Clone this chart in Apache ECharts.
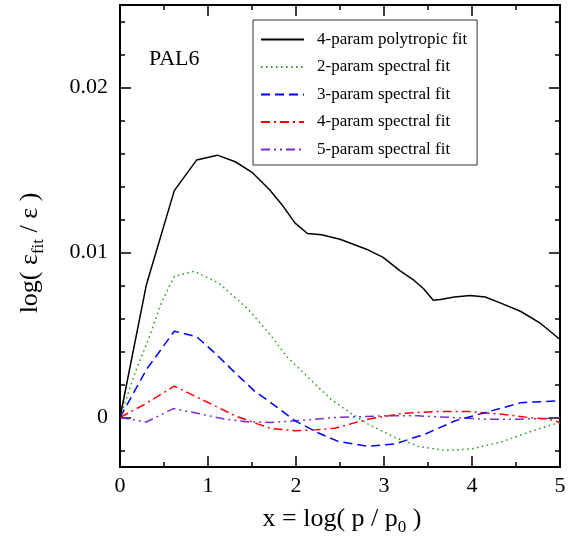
<!DOCTYPE html>
<html><head><meta charset="utf-8">
<script src="https://cdn.jsdelivr.net/npm/echarts@6/dist/echarts.min.js"></script>
<style>html,body{margin:0;padding:0;background:#fff}#c{width:575px;height:545px}</style>
</head><body><div id="c"></div>
<script>
const seriesNames = ['4-param polytropic fit','2-param spectral fit','3-param spectral fit','4-param spectral fit','5-param spectral fit'];
const polytropic4 = [[0,0],[0.30,0.00805],[0.617,0.01375],[0.87,0.0156],[1.106,0.0159],[1.31,0.0155],[1.50,0.01486],[1.70,0.0138],[1.84,0.0129],[1.99,0.01178],[2.13,0.01115],[2.29,0.01108],[2.5,0.0108],[2.8,0.0102],[2.99,0.0097],[3.18,0.0089],[3.33,0.00836],[3.45,0.0078],[3.56,0.0071],[3.64,0.00715],[3.8,0.0073],[3.98,0.0074],[4.15,0.0073],[4.32,0.00695],[4.55,0.00644],[4.77,0.00574],[5,0.00473]];
const spectral2 = [[0,0],[0.17,0.0027],[0.32,0.0047],[0.47,0.00695],[0.617,0.00856],[0.84,0.00886],[1.12,0.00816],[1.46,0.00654],[1.72,0.00493],[1.89,0.00372],[2.16,0.00231],[2.4,0.0011],[2.61,0.0003],[2.82,-0.0004],[3.125,-0.00121],[3.39,-0.00175],[3.69,-0.002],[4.0,-0.0019],[4.34,-0.00147],[4.64,-0.0009],[4.87,-0.0005],[5,-0.0003]];
const spectral3 = [[0,0],[0.3,0.0029],[0.617,0.00523],[0.87,0.0049],[1.08,0.0039],[1.31,0.0027],[1.53,0.0016],[1.74,0.0008],[1.99,-0.0002],[2.24,-0.0009],[2.48,-0.00145],[2.82,-0.00175],[3.125,-0.0016],[3.47,-0.001],[3.81,-0.0002],[4.22,0.0004],[4.56,0.0009],[4.94,0.001],[5,0.001]];
const spectral4 = [[0,0],[0.28,0.0008],[0.617,0.0019],[0.85,0.0013],[1.08,0.0007],[1.31,0.0001],[1.57,-0.0004],[1.72,-0.00067],[1.99,-0.0008],[2.22,-0.00075],[2.44,-0.00065],[2.82,-0.0001],[3.2,0.00024],[3.58,0.00036],[3.96,0.00036],[4.34,0.0002],[4.64,0],[4.87,-0.0001],[5,-0.0003]];
const spectral5 = [[0,0],[0.3,-0.00027],[0.606,0.00054],[0.93,0.0002],[1.19,-0.0001],[1.46,-0.00027],[1.72,-0.0003],[1.99,-0.0002],[2.44,0],[3.01,0.0001],[3.39,0.0001],[3.77,0],[4.15,-0.0001],[4.53,-0.0001],[4.87,-0.00005],[5,0]];
const yMajorTicks = [0, 0.01, 0.02];
const yMinorTicks = [-0.002,0.002,0.004,0.006,0.008,0.012,0.014,0.016,0.018,0.022,0.024];
const xTickLabels = ['0','1','2','3','4','5'];

const FONT = 'Liberation Serif';
const colors = ['#000000','#1a9a1a','#0000ff','#ff0000','#7b2fc9'];
const dashes = ['solid',[1.5,3.5],[9,5],[9,4,2,4],[9,4,2,4,2,4]];
const allData = [polytropic4, spectral2, spectral3, spectral4, spectral5];

function xAxisDef(pos, showLabel){
  return {type:'value', position:pos, min:0, max:5, interval:1,
    axisLine:{show:true, onZero:false, lineStyle:{color:'#000', width:2}},
    axisTick:{show:true, inside:true, length:11, lineStyle:{color:'#000', width:1.5}},
    minorTick:{show:true, splitNumber:2, length:5, lineStyle:{color:'#000', width:1.5}},
    splitLine:{show:false}, minorSplitLine:{show:false},
    axisLabel:{show:showLabel, margin:8, fontFamily:FONT, fontSize:22, color:'#000',
      formatter:(v)=>xTickLabels[Math.round(v)]}
  };
}
function yAxisDef(pos, major, showLabel){
  return {type:'value', position:pos, min:-0.003, max:0.025,
    axisLine:{show:true, onZero:false, lineStyle:{color:'#000', width:2}},
    axisTick:{show:true, inside:true, length: major?11:5, customValues: major? yMajorTicks : yMinorTicks, lineStyle:{color:'#000', width:1.5}},
    splitLine:{show:false},
    axisLabel:{show:showLabel, margin:12, fontFamily:FONT, fontSize:22, color:'#000',
      customValues: yMajorTicks,
      formatter:(v)=> Math.abs(v)<1e-9 ? '0' : v.toFixed(2)}
  };
}

const chart = echarts.init(document.getElementById('c'), null, {renderer:'canvas'});
chart.setOption({
  animation:false,
  backgroundColor:'#fff',
  grid:{left:120, right:15, top:5, bottom:78, containLabel:false},
  xAxis:[xAxisDef('bottom', true), xAxisDef('top', false)],
  yAxis:[yAxisDef('left', true, true), yAxisDef('left', false, false), yAxisDef('right', true, false), yAxisDef('right', false, false)],
  legend:{
    orient:'vertical', left:253, top:20,
    backgroundColor:'#fff', borderColor:'#333', borderWidth:1,
    padding:[11,10,7,7], itemGap:10.5, itemWidth:43, itemHeight:14,
    itemStyle:{opacity:0},
    textStyle:{fontFamily:FONT, fontSize:17, color:'#000', padding:[0,0,0,8]},
    data: seriesNames
  },
  series: allData.map((d,i)=>({
    name: seriesNames[i], type:'line', data:d, xAxisIndex:0, yAxisIndex:0,
    symbol:'none', smooth:false, z: 10-i,
    lineStyle:{color:colors[i], width:1.5, type:dashes[i], cap:'butt'},
    itemStyle:{color:colors[i]}
  })),
  graphic:[
    {type:'text', left:149, top:48, style:{text:'PAL6', font:'22px "Liberation Serif"', fill:'#000'}},
    {type:'text', x:342, y:521, style:{
      text:'{a|x = log( p / p}{s|0}{a| )}', align:'center', verticalAlign:'middle',
      rich:{a:{fontFamily:FONT, fontSize:26, fill:'#000', lineHeight:30, verticalAlign:'top'},
            s:{fontFamily:FONT, fontSize:17, fill:'#000', lineHeight:17, verticalAlign:'bottom'}}}},
    {type:'text', x:32, y:253, rotation:Math.PI/2, style:{
      text:'{a|log( ε}{s|fit}{a| / ε )}', align:'center', verticalAlign:'middle',
      rich:{a:{fontFamily:FONT, fontSize:26, fill:'#000', lineHeight:30, verticalAlign:'top'},
            s:{fontFamily:FONT, fontSize:17, fill:'#000', lineHeight:17, verticalAlign:'bottom'}}}}
  ]
});
</script></body></html>
